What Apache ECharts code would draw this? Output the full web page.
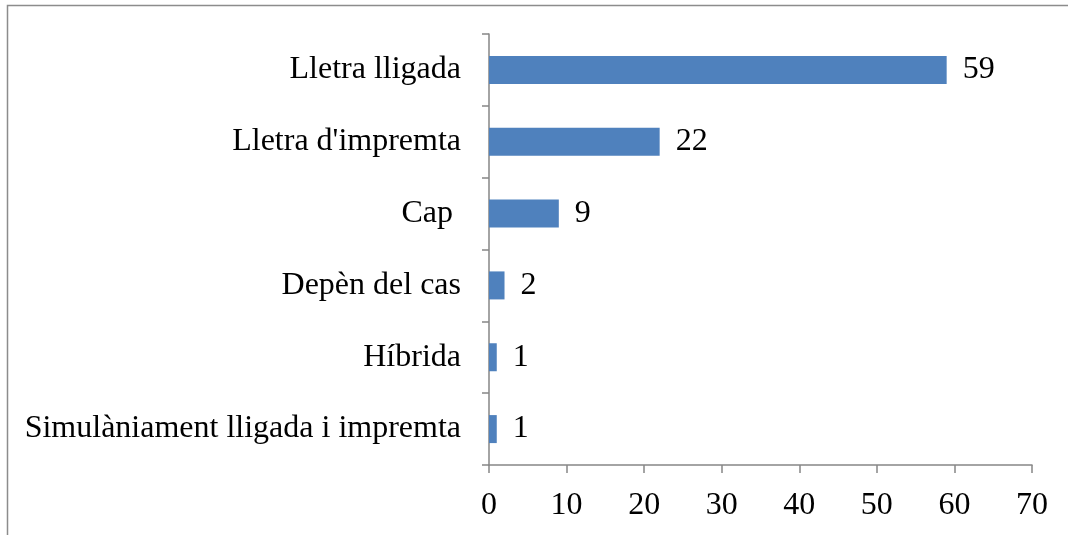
<!DOCTYPE html>
<html>
<head>
<meta charset="utf-8">
<script src="https://cdn.jsdelivr.net/npm/echarts@6/dist/echarts.min.js"></script>
<style>
  html, body { margin: 0; padding: 0; background: #fff; }
  #main { width: 1068px; height: 535px; }
</style>
</head>
<body>
<div id="main"></div>
<script>
// categories from bottom to top (ECharts category axis draws upwards)
var categories = [
    'Simulàniament lligada i impremta',
    'Híbrida',
    'Depèn del cas',
    'Cap ',
    "Lletra d'impremta",
    'Lletra lligada'
];
var values = [1, 1, 2, 9, 22, 59];
var xTicks = [0, 70, 10]; // min, max, interval

var myChart = echarts.init(document.getElementById('main'));
var axisGray = '#868686';
var font = '"Liberation Serif", "Times New Roman", serif';

option = {
    backgroundColor: '#fff',
    animation: false,
    graphic: [
        {
            type: 'polyline',
            shape: { points: [[7.5, 535], [7.5, 5.5], [1068, 5.5]] },
            style: { stroke: '#8c8c8c', lineWidth: 1.5, fill: null }
        }
    ],
    grid: {
        left: 489,
        right: 36,
        top: 34,
        bottom: 70
    },
    xAxis: {
        type: 'value',
        min: xTicks[0],
        max: xTicks[1],
        interval: xTicks[2],
        splitLine: { show: false },
        axisLine: { show: true, lineStyle: { color: axisGray, width: 1.5 } },
        axisTick: { show: true, length: 8, lineStyle: { color: axisGray, width: 1.5 } },
        axisLabel: {
            color: '#000',
            fontFamily: font,
            fontSize: 32,
            margin: 25
        }
    },
    yAxis: {
        type: 'category',
        data: categories,
        axisLine: { show: true, lineStyle: { color: axisGray, width: 1.5 } },
        axisTick: { show: true, length: 7, lineStyle: { color: axisGray, width: 1.5 } },
        axisLabel: {
            color: '#000',
            fontFamily: font,
            fontSize: 32,
            margin: 28
        }
    },
    series: [
        {
            type: 'bar',
            data: values,
            barWidth: 28,
            itemStyle: {
                color: '#4f81bd'
            },
            label: {
                show: true,
                position: 'right',
                distance: 16,
                color: '#000',
                fontFamily: font,
                fontSize: 32
            }
        }
    ]
};
myChart.setOption(option);
</script>
</body>
</html>
